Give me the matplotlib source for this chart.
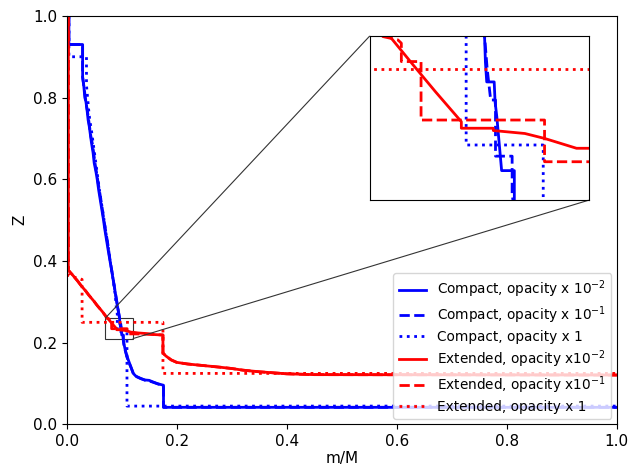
import matplotlib
matplotlib.use('Agg')
import matplotlib.pyplot as plt
from mpl_toolkits.axes_grid1.inset_locator import mark_inset

# Z profile against enclosed mass fraction, compact model
compact_m2 = [0.004, 0.004, 0.029, 0.029, 0.031, 0.033, 0.035, 0.037, 0.039, 0.041, 0.043, 0.045,
              0.048, 0.050, 0.053, 0.0555, 0.058, 0.061, 0.064, 0.067, 0.069, 0.072, 0.075, 0.0788,
              0.082, 0.085, 0.088, 0.091, 0.0935, 0.0962, 0.0964, 0.0967, 0.0984, 0.0986, 0.099,
              0.1001, 0.1030, 0.1030, 0.106, 0.109, 0.112, 0.117, 0.121, 0.126, 0.134, 0.142, 0.150,
              0.157, 0.165, 0.176, 0.176, 1.0]
compact_z2 = [1.0, 0.93, 0.93, 0.85, 0.83, 0.80, 0.79, 0.77, 0.745, 0.73, 0.71, 0.69,
              0.665, 0.64, 0.62, 0.60, 0.575, 0.55, 0.525, 0.50, 0.48, 0.455, 0.43, 0.40,
              0.375, 0.35, 0.325, 0.30, 0.28, 0.26, 0.252, 0.246, 0.246, 0.24, 0.2354,
              0.219, 0.219, 0.205, 0.185, 0.17, 0.158, 0.14, 0.125, 0.118, 0.113, 0.109, 0.108,
              0.104, 0.100, 0.096, 0.042, 0.042]

compact_m1 = [0.004, 0.004, 0.029, 0.029, 0.032, 0.034, 0.036, 0.038, 0.040, 0.042, 0.044, 0.047,
              0.050, 0.052, 0.055, 0.058, 0.061, 0.064, 0.066, 0.069, 0.072, 0.075, 0.078,
              0.081, 0.084, 0.087, 0.090, 0.093, 0.0962, 0.0968, 0.0976, 0.0987, 0.0987,
              0.0987, 0.1025, 0.1025, 0.104, 0.107, 0.110, 0.113, 0.118, 0.122, 0.127, 0.135,
              0.143, 0.151, 0.158, 0.166, 0.176, 0.176, 1.0]
compact_z1 = [1.0, 0.93, 0.93, 0.85, 0.82, 0.80, 0.78, 0.765, 0.745, 0.725, 0.705, 0.685,
              0.655, 0.635, 0.61, 0.585, 0.56, 0.535, 0.515, 0.49, 0.465, 0.44, 0.41,
              0.385, 0.36, 0.335, 0.31, 0.285, 0.26, 0.25, 0.2405, 0.2405, 0.2344,
              0.2234, 0.2234, 0.212, 0.195, 0.178, 0.163, 0.152, 0.136, 0.122, 0.117, 0.112,
              0.108, 0.106, 0.103, 0.099, 0.095, 0.042, 0.042]

compact_m0 = [0.004, 0.004, 0.036, 0.036, 0.038, 0.040, 0.042, 0.045, 0.047, 0.050, 0.052, 0.055,
              0.058, 0.061, 0.064, 0.067, 0.070, 0.073, 0.076, 0.079, 0.082, 0.085, 0.088, 0.090,
              0.092, 0.092, 0.1096, 0.1096, 1.0]
compact_z0 = [1.0, 0.90, 0.90, 0.83, 0.80, 0.77, 0.745, 0.72, 0.70, 0.67, 0.65, 0.62,
              0.59, 0.56, 0.535, 0.51, 0.48, 0.455, 0.43, 0.40, 0.375, 0.35, 0.32, 0.29,
              0.27, 0.2268, 0.2268, 0.045, 0.045]

# extended model
extended_m2 = [0.003, 0.003, 0.006, 0.010, 0.015, 0.020, 0.025, 0.030, 0.035, 0.040, 0.045, 0.050,
               0.055, 0.060, 0.065, 0.070, 0.0746, 0.080, 0.085, 0.0909, 0.0909, 0.0982, 0.0982,
               0.1054, 0.1099, 0.1172, 0.120, 0.130, 0.140, 0.150, 0.160, 0.175, 0.175, 0.180,
               0.190, 0.200, 0.220, 0.250, 0.280, 0.300, 0.320, 0.350, 0.380, 0.400, 0.450, 1.0]
extended_z2 = [1.0, 0.378, 0.373, 0.367, 0.359, 0.351, 0.342, 0.334, 0.326, 0.317, 0.309, 0.301,
               0.292, 0.284, 0.276, 0.267, 0.2598, 0.251, 0.243, 0.2339, 0.2319, 0.2319, 0.2312,
               0.2303, 0.2288, 0.2258, 0.2258, 0.224, 0.223, 0.222, 0.220, 0.219, 0.175, 0.168,
               0.158, 0.152, 0.148, 0.144, 0.140, 0.137, 0.133, 0.129, 0.126, 0.124, 0.122, 0.121]

extended_m1 = [0.003, 0.003, 0.006, 0.010, 0.015, 0.020, 0.025, 0.030, 0.035, 0.040, 0.045, 0.050,
               0.055, 0.060, 0.065, 0.070, 0.0730, 0.0764, 0.0772, 0.0772, 0.0817, 0.0817, 0.1099,
               0.1099, 0.120, 0.130, 0.140, 0.150, 0.160, 0.175, 0.175, 0.180, 0.190, 0.200,
               0.220, 0.250, 0.280, 0.300, 0.320, 0.350, 0.380, 0.400, 0.450, 1.0]
extended_z1 = [1.0, 0.378, 0.373, 0.367, 0.359, 0.351, 0.342, 0.334, 0.326, 0.317, 0.309, 0.301,
               0.292, 0.284, 0.276, 0.267, 0.2598, 0.2588, 0.2578, 0.2522, 0.2522, 0.2344, 0.2344,
               0.2217, 0.2217, 0.2215, 0.221, 0.2205, 0.220, 0.219, 0.175, 0.168, 0.158, 0.152,
               0.148, 0.144, 0.140, 0.137, 0.133, 0.129, 0.126, 0.124, 0.122, 0.121]

extended_m0 = [0.003, 0.003, 0.028, 0.028, 0.175, 0.175, 1.0]
extended_z0 = [1.0, 0.365, 0.355, 0.250, 0.250, 0.125, 0.125]

fig = plt.figure(figsize=(6.32, 4.68), dpi=100)
ax = fig.add_axes([0.1055, 0.093, 0.8705, 0.873])


def draw_curves(a, with_labels):
    a.plot(compact_m2, compact_z2, color='blue', ls='-', lw=2,
           label=r'Compact, opacity x $10^{-2}$' if with_labels else None)
    a.plot(compact_m1, compact_z1, color='blue', ls='--', lw=2,
           label=r'Compact, opacity x $10^{-1}$' if with_labels else None)
    a.plot(compact_m0, compact_z0, color='blue', ls=':', lw=2,
           label='Compact, opacity x 1' if with_labels else None)
    a.plot(extended_m2, extended_z2, color='red', ls='-', lw=2,
           label=r'Extended, opacity x$10^{-2}$' if with_labels else None)
    a.plot(extended_m1, extended_z1, color='red', ls='--', lw=2,
           label=r'Extended, opacity x$10^{-1}$' if with_labels else None)
    a.plot(extended_m0, extended_z0, color='red', ls=':', lw=2,
           label='Extended, opacity x 1' if with_labels else None)


draw_curves(ax, True)
ax.set_xlim(0, 1)
ax.set_ylim(0, 1)
ax.set_xlabel('m/M', fontsize=11, labelpad=1)
ax.set_ylabel('Z', fontsize=11)
ax.tick_params(labelsize=11)
ax.legend(loc='lower right', fontsize=9.8, labelspacing=0.3, borderaxespad=0.4)

# zoom on the crossing region
axins = ax.inset_axes([0.551, 0.549, 0.398, 0.402])
draw_curves(axins, False)
axins.set_xlim(0.07, 0.12)
axins.set_ylim(0.21, 0.26)
axins.set_xticks([])
axins.set_yticks([])
mark_inset(ax, axins, loc1=2, loc2=4, fc='none', ec='0.2', lw=0.8)

fig.savefig('out.png', dpi=100)
